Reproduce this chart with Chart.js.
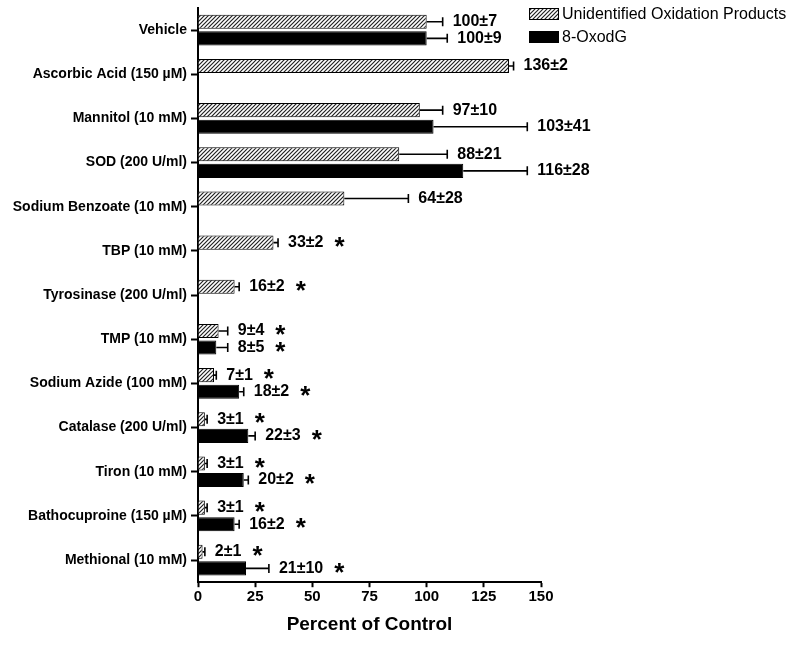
<!DOCTYPE html>
<html>
<head>
<meta charset="utf-8">
<script src="https://cdn.jsdelivr.net/npm/chart.js@4/dist/chart.umd.min.js"></script>
<style>
html, body { margin: 0; padding: 0; background: #fff; }
</style>
</head>
<body>
<canvas id="chart" width="795" height="646"></canvas>
<script>
// data
var categories = ['Vehicle', 'Ascorbic Acid (150 µM)', 'Mannitol (10 mM)', 'SOD (200 U/ml)',
	'Sodium Benzoate (10 mM)', 'TBP (10 mM)', 'Tyrosinase (200 U/ml)', 'TMP (10 mM)',
	'Sodium Azide (100 mM)', 'Catalase (200 U/ml)', 'Tiron (10 mM)', 'Bathocuproine (150 µM)',
	'Methional (10 mM)'];
var seriesNames = ['Unidentified Oxidation Products', '8-OxodG'];
var oxValues = [100, 136, 97, 88, 64, 33, 16, 9, 7, 3, 3, 3, 2];
var oxErrors = [7, 2, 10, 21, 28, 2, 2, 4, 1, 1, 1, 1, 1];
var oxStars = [false, false, false, false, false, true, true, true, true, true, true, true, true];
var oxodgValues = [100, null, 103, 116, null, null, null, 8, 18, 22, 20, 16, 21];
var oxodgErrors = [9, null, 41, 28, null, null, null, 5, 2, 3, 2, 2, 10];
var oxodgStars = [false, false, false, false, false, false, false, true, true, true, true, true, true];
var xTicks = [0, 25, 50, 75, 100, 125, 150];

var FONT = "'Liberation Sans', Arial, sans-serif";

//diagonal hatch for the first series
function makeHatch() {
	var c = document.createElement('canvas');
	c.width = 4; c.height = 4;
	var g = c.getContext('2d');
	g.fillStyle = '#fff';
	g.fillRect(0, 0, 4, 4);
	g.strokeStyle = '#222';
	g.lineWidth = 1.2;
	g.beginPath();
	g.moveTo(-1, 5); g.lineTo(5, -1);
	g.moveTo(-1, 1); g.lineTo(1, -1);
	g.moveTo(3, 5); g.lineTo(5, 3);
	g.stroke();
	return g.createPattern(c, 'repeat');
}
var hatch = makeHatch();

var errors = [oxErrors, oxodgErrors];
var stars = [oxStars, oxodgStars];

// error bars, value labels and asterisks
var annotate = {
	id: 'annotate',
	afterDatasetsDraw: function(chart) {
		var ctx = chart.ctx;
		var xs = chart.scales.x;
		ctx.save();
		chart.data.datasets.forEach(function(ds, d) {
			var meta = chart.getDatasetMeta(d);
			meta.data.forEach(function(bar, i) {
				var v = ds.data[i];
				if (v === null || v === undefined) return;
				var err = errors[d][i];
				var end = xs.getPixelForValue(v + err);
				ctx.strokeStyle = '#000';
				ctx.lineWidth = 1.6;
				ctx.beginPath();
				ctx.moveTo(bar.x, bar.y);
				ctx.lineTo(end, bar.y);
				ctx.moveTo(end, bar.y - 4.5);
				ctx.lineTo(end, bar.y + 4.5);
				ctx.stroke();

				var txt = v + '±' + err;
				ctx.fillStyle = '#000';
				ctx.font = 'bold 16px ' + FONT;
				ctx.textAlign = 'left';
				ctx.textBaseline = 'middle';
				var lx = end + 10;
				ctx.fillText(txt, lx, bar.y);
				if (stars[d][i]) {
					var w = ctx.measureText(txt).width;
					ctx.font = 'bold 26px ' + FONT;
					ctx.fillText('*', lx + w + 11, bar.y + 5);
				}
			});
		});
		ctx.restore();
	}
};

// legend in the top right corner, over the plot margin
var cornerLegend = {
	id: 'cornerLegend',
	afterDraw: function(chart) {
		var ctx = chart.ctx;
		ctx.save();
		chart.data.datasets.forEach(function(ds, d) {
			var y = 14 + d * 23;
			ctx.fillStyle = ds.backgroundColor;
			ctx.fillRect(529, y - 6, 30, 12);
			ctx.strokeStyle = '#000';
			ctx.lineWidth = 1;
			ctx.strokeRect(529.5, y - 5.5, 29, 11);
			ctx.fillStyle = '#000';
			ctx.font = '16px ' + FONT;
			ctx.textAlign = 'left';
			ctx.textBaseline = 'middle';
			ctx.fillText(ds.label, 562, y + 1);
		});
		ctx.restore();
	}
};

var chart = new Chart(document.getElementById('chart').getContext('2d'), {
	type: 'bar',
	data: {
		labels: categories,
		datasets: [{
			label: seriesNames[0],
			data: oxValues,
			backgroundColor: hatch,
			borderColor: '#000',
			borderWidth: 1,
			categoryPercentage: 0.75,
			barPercentage: 0.85
		}, {
			label: seriesNames[1],
			data: oxodgValues,
			backgroundColor: '#000',
			borderColor: '#000',
			borderWidth: 1,
			categoryPercentage: 0.75,
			barPercentage: 0.85
		}]
	},
	options: {
		indexAxis: 'y',
		responsive: false,
		animation: false,
		layout: { padding: { left: 0, right: 254, top: 8, bottom: 6 } },
		plugins: {
			legend: { display: false },
			tooltip: { enabled: false }
		},
		scales: {
			x: {
				min: xTicks[0],
				max: xTicks[xTicks.length - 1],
				ticks: {
					stepSize: xTicks[1] - xTicks[0],
					color: '#000',
					padding: 1,
					font: { family: FONT, size: 15, weight: 'bold' }
				},
				grid: { drawOnChartArea: false, tickLength: 5, tickWidth: 2, tickColor: '#000' },
				border: { color: '#000', width: 2 },
				title: {
					display: true,
					text: 'Percent of Control',
					color: '#000',
					padding: { top: 6, bottom: 4 },
					font: { family: FONT, size: 19, weight: 'bold' }
				}
			},
			y: {
				afterFit: function(scale) {
					scale.width = 198;
					scale.paddingTop = 0;
					scale.paddingBottom = 0;
				},
				ticks: {
					color: '#000',
					padding: 4,
					font: { family: FONT, size: 14, weight: 'bold' }
				},
				grid: { drawOnChartArea: false, offset: false, tickLength: 7, tickWidth: 2, tickColor: '#000' },
				border: { color: '#000', width: 2 }
			}
		}
	},
	plugins: [annotate, cornerLegend]
});
</script>
</body>
</html>
